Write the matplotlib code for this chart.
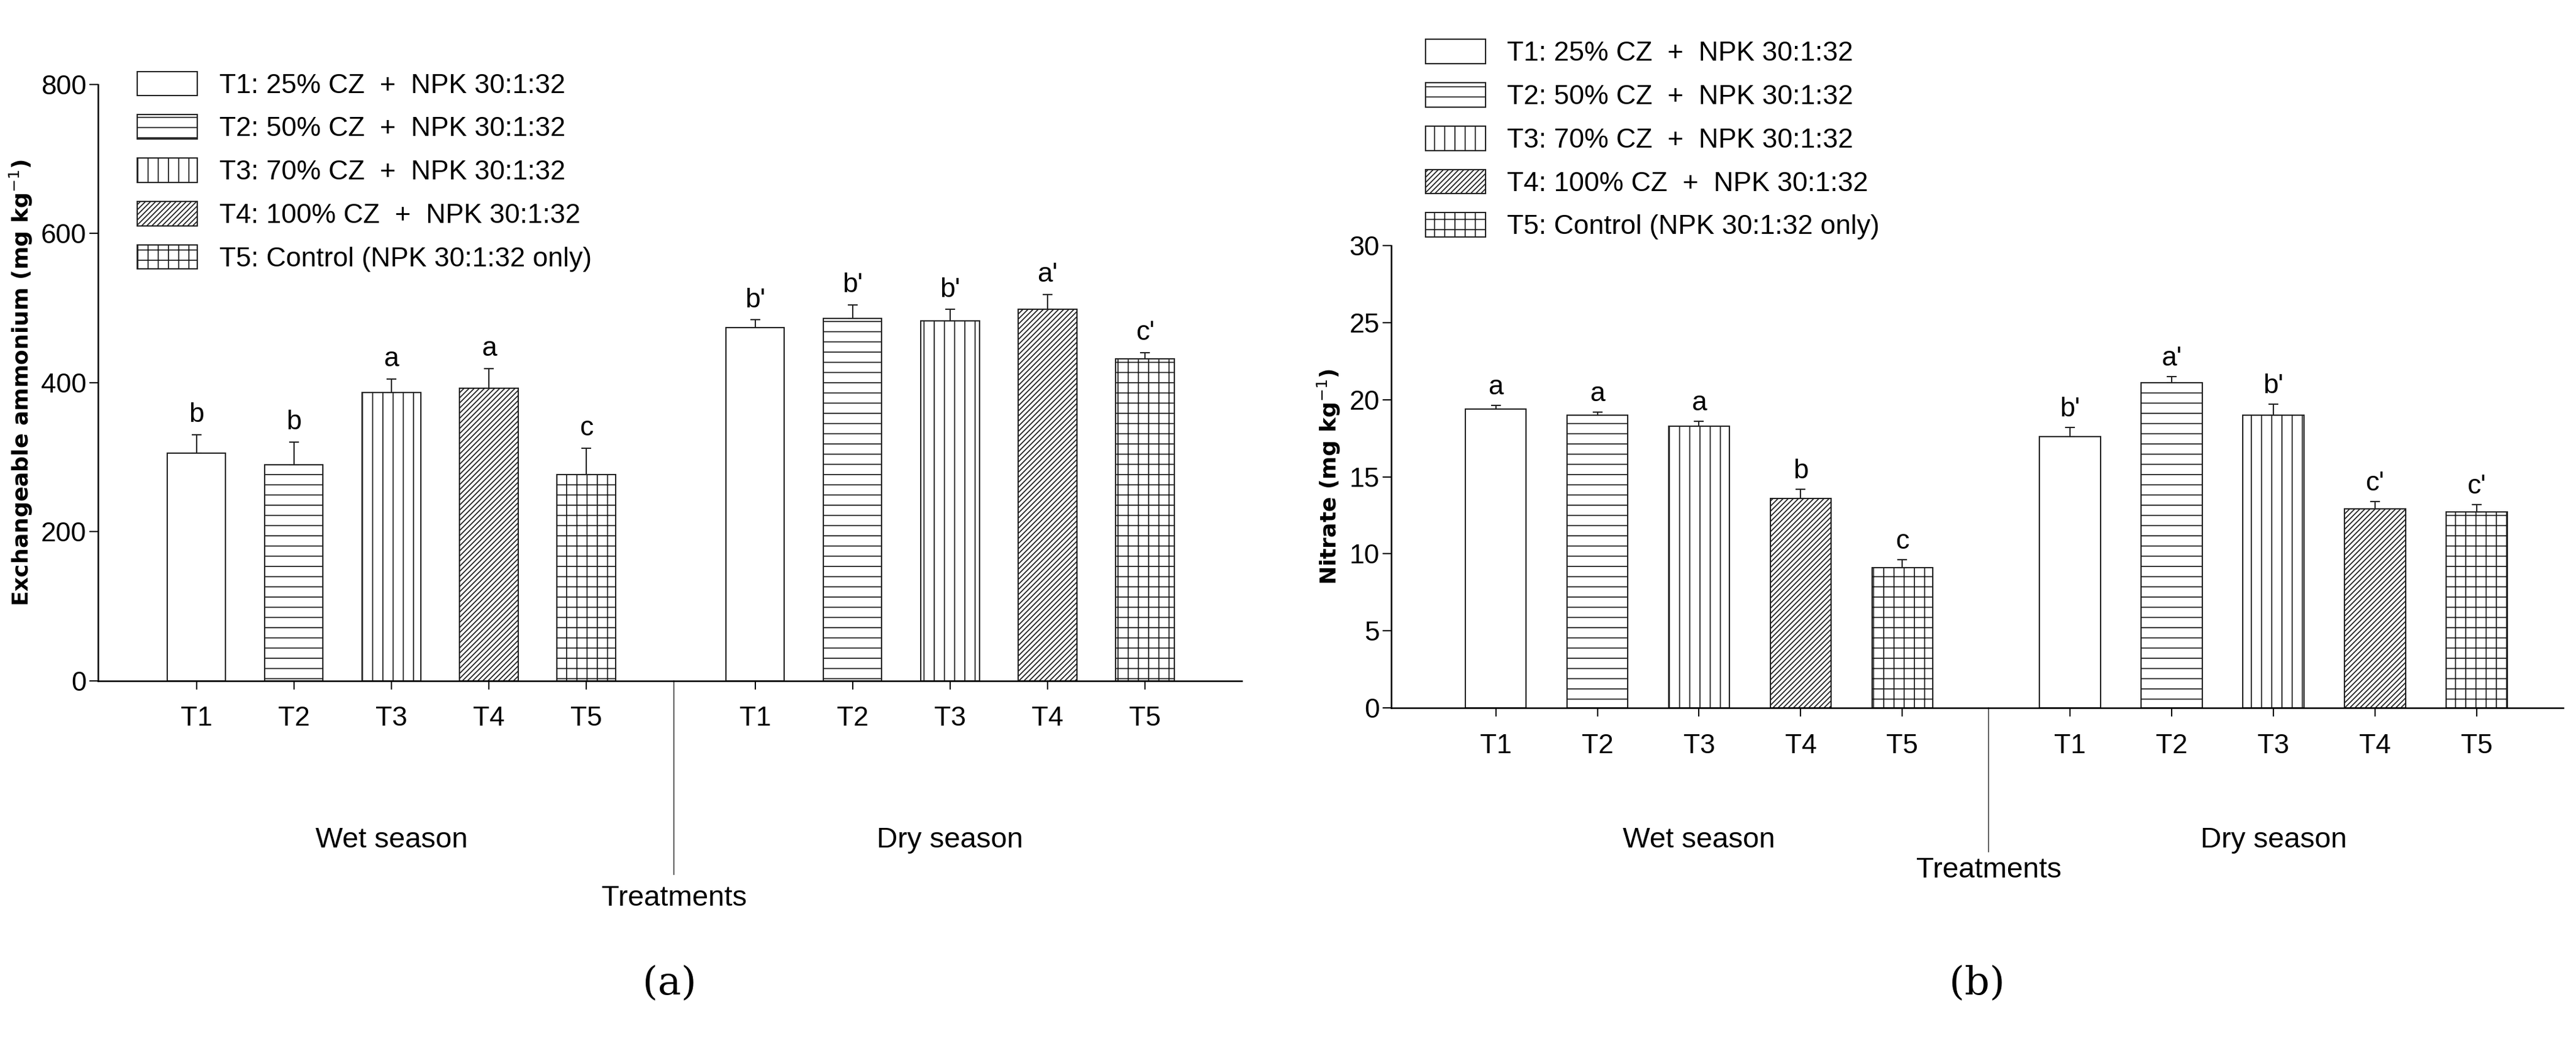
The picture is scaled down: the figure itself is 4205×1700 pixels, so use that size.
import matplotlib
matplotlib.use("Agg")
import matplotlib.pyplot as plt
from matplotlib import font_manager

cats = ["T1", "T2", "T3", "T4", "T5"]
legend_labels = ["T1: 25% CZ  +  NPK 30:1:32", "T2: 50% CZ  +  NPK 30:1:32",
                 "T3: 70% CZ  +  NPK 30:1:32", "T4: 100% CZ  +  NPK 30:1:32",
                 "T5: Control (NPK 30:1:32 only)"]
nh4_wet = [305, 290, 387, 392, 277]
nh4_wet_err = [25, 30, 18, 27, 35]
nh4_dry = [474, 486, 483, 498, 432]
nh4_dry_err = [10, 18, 15, 20, 8]
nh4_wet_let = ["b", "b", "a", "a", "c"]
nh4_dry_let = ["b'", "b'", "b'", "a'", "c'"]
no3_wet = [19.4, 19.0, 18.3, 13.6, 9.1]
no3_wet_err = [0.25, 0.2, 0.3, 0.6, 0.5]
no3_dry = [17.6, 21.1, 19.0, 12.9, 12.7]
no3_dry_err = [0.6, 0.4, 0.7, 0.5, 0.5]
no3_wet_let = ["a", "a", "a", "b", "c"]
no3_dry_let = ["b'", "a'", "b'", "c'", "c'"]

names = {f.name for f in font_manager.fontManager.ttflist}
narrow = "Liberation Sans Narrow" if "Liberation Sans Narrow" in names else "Liberation Sans"
plt.rcParams['font.family'] = [narrow, 'DejaVu Sans']
plt.rcParams['hatch.linewidth'] = 1.3
hatches = ["", "-", "|", "////", "+"]

fig = plt.figure(figsize=(42.05, 17), dpi=100)

def panel(rect, wet, we, dry, de, wl, dl, ylim, yticks, ylabel, dry0, xr, div, seas_y, treat_y, leg_anchor, tag):
    ax = fig.add_axes(rect)
    wx = list(range(5))
    dx = [dry0 + i for i in range(5)]
    for xs, vals, errs, lets in [(wx, wet, we, wl), (dx, dry, de, dl)]:
        for i in range(5):
            ax.bar(xs[i], vals[i], width=0.6, color="white", edgecolor="#222222",
                   hatch=hatches[i], linewidth=1.5, label=legend_labels[i] if xs is wx else None)
            ax.errorbar(xs[i], vals[i], yerr=[[0], [errs[i]]], color="#222222",
                        capsize=6, elinewidth=1.5, capthick=1.5)
            ax.text(xs[i], vals[i] + errs[i] + ylim[1] * 0.012, lets[i], ha="center",
                    va="bottom", fontsize=32)
    ax.set_xlim(xr)
    ax.set_ylim(ylim)
    ax.set_yticks(yticks)
    ax.set_xticks(wx + dx)
    ax.set_xticklabels(cats + cats)
    ax.tick_params(labelsize=32, width=1.5, length=10)
    ax.tick_params(axis="x", pad=20)
    for s in ["top", "right"]:
        ax.spines[s].set_visible(False)
    for s in ["left", "bottom"]:
        ax.spines[s].set_linewidth(1.8)
    ax.set_ylabel(ylabel, fontsize=26, family="DejaVu Sans", fontweight="bold", labelpad=8)
    trans = ax.get_xaxis_transform()
    ax.plot([div, div], [0, treat_y + 0.04], color="#444444", lw=1.2, clip_on=False, transform=trans)
    ax.text(2, seas_y, "Wet season", transform=trans, ha="center", va="center", fontsize=34)
    ax.text(dry0 + 2, seas_y, "Dry season", transform=trans, ha="center", va="center", fontsize=34)
    ax.text(div, treat_y, "Treatments", transform=trans, ha="center", va="center", fontsize=34)
    ax.legend(loc="upper left", bbox_to_anchor=leg_anchor, frameon=False, fontsize=32,
              handlelength=2.2, handleheight=1.0, labelspacing=0.6, borderaxespad=0)
    fig.text(rect[0] + rect[2] / 2, 0.055, tag, ha="center", va="center", fontsize=46,
             family="DejaVu Serif")
    return ax

panel([0.038, 0.346, 0.444, 0.573], nh4_wet, nh4_wet_err, nh4_dry, nh4_dry_err,
      nh4_wet_let, nh4_dry_let, (0, 800), [0, 200, 400, 600, 800],
      "Exchangeable ammonium (mg kg$^{-1}$)", 5.73, (-1.01, 10.72), 4.9,
      -0.267, -0.365, (0.025, 1.04), "(a)")
panel([0.54, 0.32, 0.455, 0.444], no3_wet, no3_wet_err, no3_dry, no3_dry_err,
      no3_wet_let, no3_dry_let, (0, 30), [0, 5, 10, 15, 20, 25, 30],
      "Nitrate (mg kg$^{-1}$)", 5.65, (-1.03, 10.5), 4.85,
      -0.286, -0.351, (0.02, 1.47), "(b)")

fig.savefig("out.png", dpi=100)
